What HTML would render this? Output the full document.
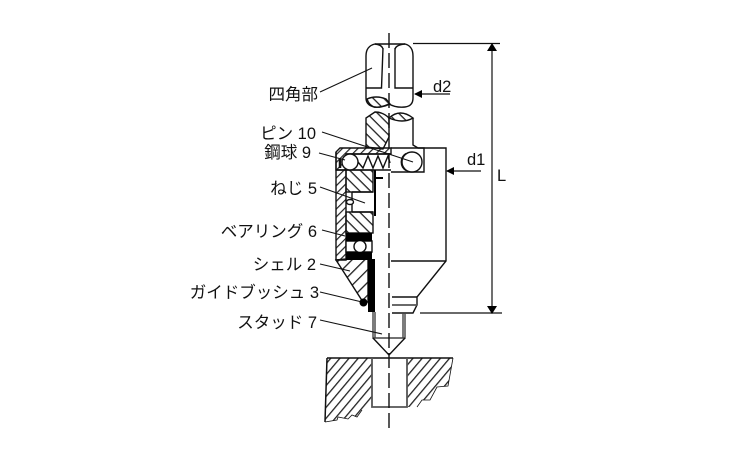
<!DOCTYPE html>
<html>
<head>
<meta charset="utf-8">
<style>
html,body{margin:0;padding:0;background:#fff;width:750px;height:450px;overflow:hidden}
svg{display:block}
text{font-family:"Liberation Sans","Noto Sans CJK JP",sans-serif;font-size:16.5px;fill:#111}
</style>
</head>
<body>
<svg width="750" height="450" viewBox="0 0 750 450" xmlns="http://www.w3.org/2000/svg">
<defs>
<pattern id="h1" width="7.5" height="7.5" patternUnits="userSpaceOnUse" patternTransform="rotate(45)"><rect width="7.5" height="1.3" fill="#222"/></pattern>
<pattern id="h2" width="5.5" height="5.5" patternUnits="userSpaceOnUse" patternTransform="rotate(-45)"><rect width="5.5" height="1.2" fill="#222"/></pattern>
<pattern id="h4" width="9" height="9" patternUnits="userSpaceOnUse" patternTransform="rotate(-45)"><rect width="9" height="1.3" fill="#222"/></pattern>
<pattern id="h3" width="7" height="7" patternUnits="userSpaceOnUse" patternTransform="rotate(-50)"><rect width="7" height="1.3" fill="#222"/></pattern>
</defs>

<g fill="none" stroke="#111" stroke-width="1.4">
<!-- top square part -->
<path d="M375 44H405Q413 46 413 56V98Q413 106 405 107Q396 108 389 104Q380 108 374 107Q366 105 366 98V56Q366 46 375 44Z" fill="#fff"/>
<path d="M383 48L381.500 88H366M395 48V88H413M375 44Q383 45 383 50M405 44Q395 45 395 50"/>
<path d="M367 99Q376 95 386 99L390 104Q382 108 374 107Q369 105 367 99Z" fill="url(#h1)"/>

<!-- lower head -->
<path d="M366 147V118L375 112Q383 112 389 118V137L383 149Z" fill="url(#h1)"/>
<path d="M389 118Q400 108 413 118Q403 124 389 118Z" fill="url(#h1)"/>
<path d="M413 118V145L418 148H446V261L417 297V305L413 313H392"/>
<path d="M391 148H424V172H391M391 261H446M392 297H417"/>
<path d="M392 305H417" stroke="#555" stroke-width="1.800"/>

<!-- shell left -->
<path d="M340 148H391V154H346V170H336V152Z" fill="url(#h2)"/>
<path d="M336 152V260H346V170H336Z" fill="url(#h2)"/>
<path d="M336 260L363 302H368V259H346Z" fill="url(#h4)"/>
<rect x="346" y="170" width="27" height="22" fill="url(#h1)"/>
<rect x="346" y="212" width="27" height="21" fill="url(#h1)"/>
<path d="M352 192V212M352 192H373M352 212H373"/>
<ellipse cx="350" cy="202" rx="3.500" ry="2.500" fill="#fff"/>
<path d="M346 241H372V252H346Z" fill="#fff"/>
<circle cx="360" cy="246.500" r="6" fill="#fff"/>
<path d="M346 154H391M346 170H391"/>

<!-- balls + spring -->
<circle cx="350" cy="162" r="8" fill="#fff"/>
<circle cx="412" cy="162" r="10" fill="#fff"/>
<path d="M406 153.500A10 10 0 0 0 406 170.500"/>
<path d="M358 162L363 168L368 156L373 168L378 156L383 168L388 156L390 163"/>
<path d="M340 158V168" stroke-width="2.500"/>

<!-- stud -->
<path d="M373 312V338H405V313M375 312V338M403 313V338" stroke="#444"/>
<path d="M373 338L389 355L405 338"/>

<!-- lower block -->
<path d="M327 358L325 422L337 420L338 417L348 419L352 415L357 417L362 410L372 407V358Z" fill="url(#h3)" stroke="none"/>
<path d="M407 358V407H417L422 400H430L437 387L448 386L453 358Z" fill="url(#h3)" stroke="none"/>
<path d="M327 358H453M327 358L325 422" stroke-width="1.500"/>
<path d="M325 422L337 420L338 417L348 419L352 415L357 417L362 410" stroke-width="0.800"/>
<path d="M417 407L422 400H430L437 387L448 386L453 358" stroke-width="0.800"/>
<path d="M372 358V407H407V358" stroke="#555" stroke-width="1.800"/>

<!-- centre line -->
<path d="M389 33V430" stroke-dasharray="15 5"/>

<!-- leaders -->
<path d="M320 92L372 68M322 132L413 162M319 153L345 160M320 187L365 203M322 230L345 236M320 264L350 271M320 292L362 302M320 320L382 334" stroke-width="1.100"/>

<!-- dimension lines -->
<path d="M413 43.500H500M420 313H502M492 45V312M415 94H450M447 171H481" stroke-width="1.200"/>
</g>

<!-- black parts -->
<g fill="#000">
<rect x="346" y="233" width="26" height="8"/>
<rect x="346" y="252" width="26" height="8"/>
<rect x="368" y="259" width="7" height="53"/>
<circle cx="363.500" cy="302.500" r="4"/>
<rect x="374" y="170" width="2" height="46"/>
<rect x="374" y="177" width="9" height="2"/>
<path d="M492 43L487 51H497Z"/>
<path d="M492 314L487 306H497Z"/>
<path d="M414 94L422 90V98Z"/>
<path d="M446 171L454 167V175Z"/>
</g>

<!-- text -->
<text x="318" y="100" text-anchor="end">四角部</text>
<text x="316" y="139" text-anchor="end">ピン 10</text>
<text x="311" y="158" text-anchor="end">鋼球 9</text>
<text x="317" y="194" text-anchor="end">ねじ 5</text>
<text x="317" y="237" text-anchor="end">ベアリング 6</text>
<text x="316" y="270" text-anchor="end">シェル 2</text>
<text x="319" y="298" text-anchor="end">ガイドブッシュ 3</text>
<text x="317" y="328" text-anchor="end">スタッド 7</text>
<text x="433" y="92">d2</text>
<text x="467" y="165">d1</text>
<text x="497" y="181">L</text>
</svg>
</body>
</html>
